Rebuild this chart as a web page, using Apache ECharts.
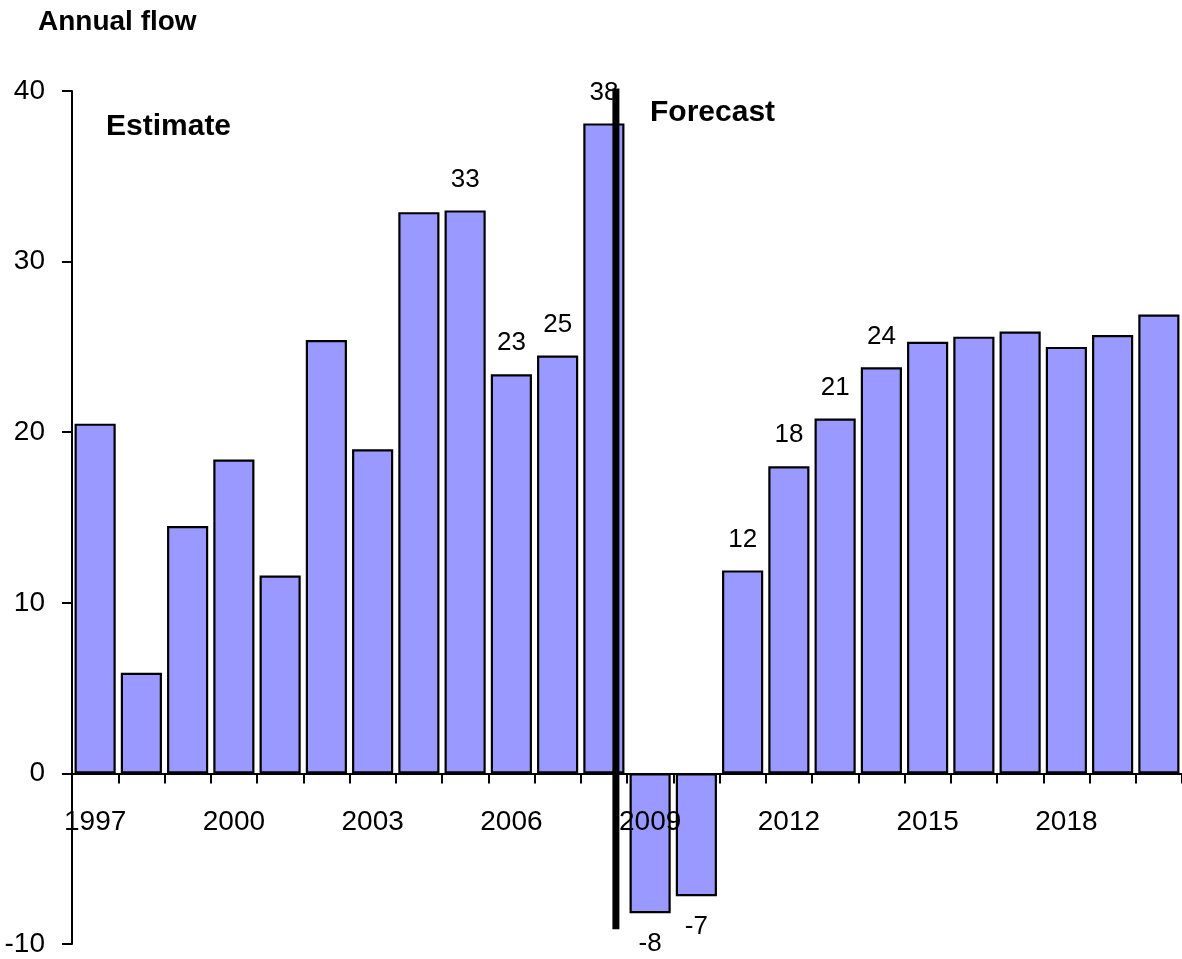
<!DOCTYPE html>
<html>
<head>
<meta charset="utf-8">
<script src="https://cdn.jsdelivr.net/npm/echarts@6/dist/echarts.min.js"></script>
<style>
  html, body { margin: 0; padding: 0; background: #fff; }
  #main { width: 1182px; height: 959px; }
</style>
</head>
<body>
<div id="main"></div>
<script>
// data
var years = ['1997', '1998', '1999', '2000', '2001', '2002', '2003', '2004', '2005', '2006', '2007', '2008',
  '2009', '2010', '2011', '2012', '2013', '2014', '2015', '2016', '2017', '2018', '2019', '2020'];
var flows = [20.5, 5.9, 14.5, 18.4, 11.6, 25.4, 19.0, 32.9, 33.0, 23.4, 24.5, 38.1,
  -8.2, -7.2, 11.9, 18.0, 20.8, 23.8, 25.3, 25.6, 25.9, 25.0, 25.7, 26.9];
var labelledYears = ['2005', '2006', '2007', '2008', '2009', '2010', '2011', '2012', '2013', '2014'];
var yMin = -10, yMax = 40, yStep = 10;
// estimate / forecast divider: drawn inside the last estimate year, y range in data units
var dividerYear = '2008';
var dividerShift = 0.26; // fraction of a category to the right of the year centre
var dividerY = [40.15, -9.14];

var font = "'Liberation Sans', Arial, sans-serif";

var chartDom = document.getElementById('main');
var myChart = echarts.init(chartDom);

var barData = flows.map(function (v, i) {
  var show = labelledYears.indexOf(years[i]) >= 0;
  return {
    value: v,
    label: {
      show: show,
      position: v < 0 ? 'bottom' : 'top'
    }
  };
});

var texts = [{
  type: 'text',
  left: 38,
  top: 8,
  style: { text: 'Annual flow', fontSize: 28, fontWeight: 'bold', fontFamily: font, fill: '#000' }
}, {
  type: 'text',
  left: 106,
  top: 112,
  style: { text: 'Estimate', fontSize: 30, fontWeight: 'bold', fontFamily: font, fill: '#000' }
}, {
  type: 'text',
  left: 650,
  top: 98,
  style: { text: 'Forecast', fontSize: 30, fontWeight: 'bold', fontFamily: font, fill: '#000' }
}];

var option = {
  animation: false,
  backgroundColor: '#fff',
  textStyle: { fontFamily: font },
  grid: { left: 72, right: 0, top: 91, bottom: 15, containLabel: false, outerBoundsMode: 'none' },
  xAxis: {
    type: 'category',
    data: years,
    z: 3,
    axisLine: { onZero: true, lineStyle: { color: '#000', width: 2 } },
    axisTick: { show: true, interval: 0, length: 10, lineStyle: { color: '#000', width: 2 } },
    // labels are laid out from the grid's bottom edge, pull them up under the zero line
    axisLabel: { interval: 2, color: '#000', fontSize: 28, fontFamily: font, margin: -136 },
    splitLine: { show: false }
  },
  yAxis: {
    type: 'value',
    min: yMin,
    max: yMax,
    interval: yStep,
    axisLine: { show: true, onZero: false, lineStyle: { color: '#000', width: 2 } },
    axisTick: { show: true, length: 10, lineStyle: { color: '#000', width: 2 } },
    axisLabel: { color: '#000', fontSize: 28, fontFamily: font, margin: 27 },
    splitLine: { show: false }
  },
  series: [{
    name: 'Annual flow',
    type: 'bar',
    data: barData,
    barCategoryGap: '11%',
    itemStyle: { color: '#9999FF', borderColor: '#000', borderWidth: 2.2 },
    label: {
      color: '#000',
      fontSize: 26,
      fontFamily: font,
      distance: 18,
      formatter: function (p) { return Math.round(p.value); }
    }
  }],
  graphic: texts
};

myChart.setOption(option);

// divider line placed through the chart's own scales
var idx = years.indexOf(dividerYear);
var c0 = myChart.convertToPixel({ xAxisIndex: 0 }, years[idx]);
var c1 = myChart.convertToPixel({ xAxisIndex: 0 }, years[idx + 1]);
var dx = c0 + (c1 - c0) * dividerShift;
var yTop = myChart.convertToPixel({ yAxisIndex: 0 }, dividerY[0]);
var yBot = myChart.convertToPixel({ yAxisIndex: 0 }, dividerY[1]);
myChart.setOption({
  graphic: texts.concat([{
    type: 'line',
    z: 100,
    shape: { x1: dx, y1: yTop, x2: dx, y2: yBot },
    style: { stroke: '#000', lineWidth: 7 }
  }])
});
</script>
</body>
</html>
